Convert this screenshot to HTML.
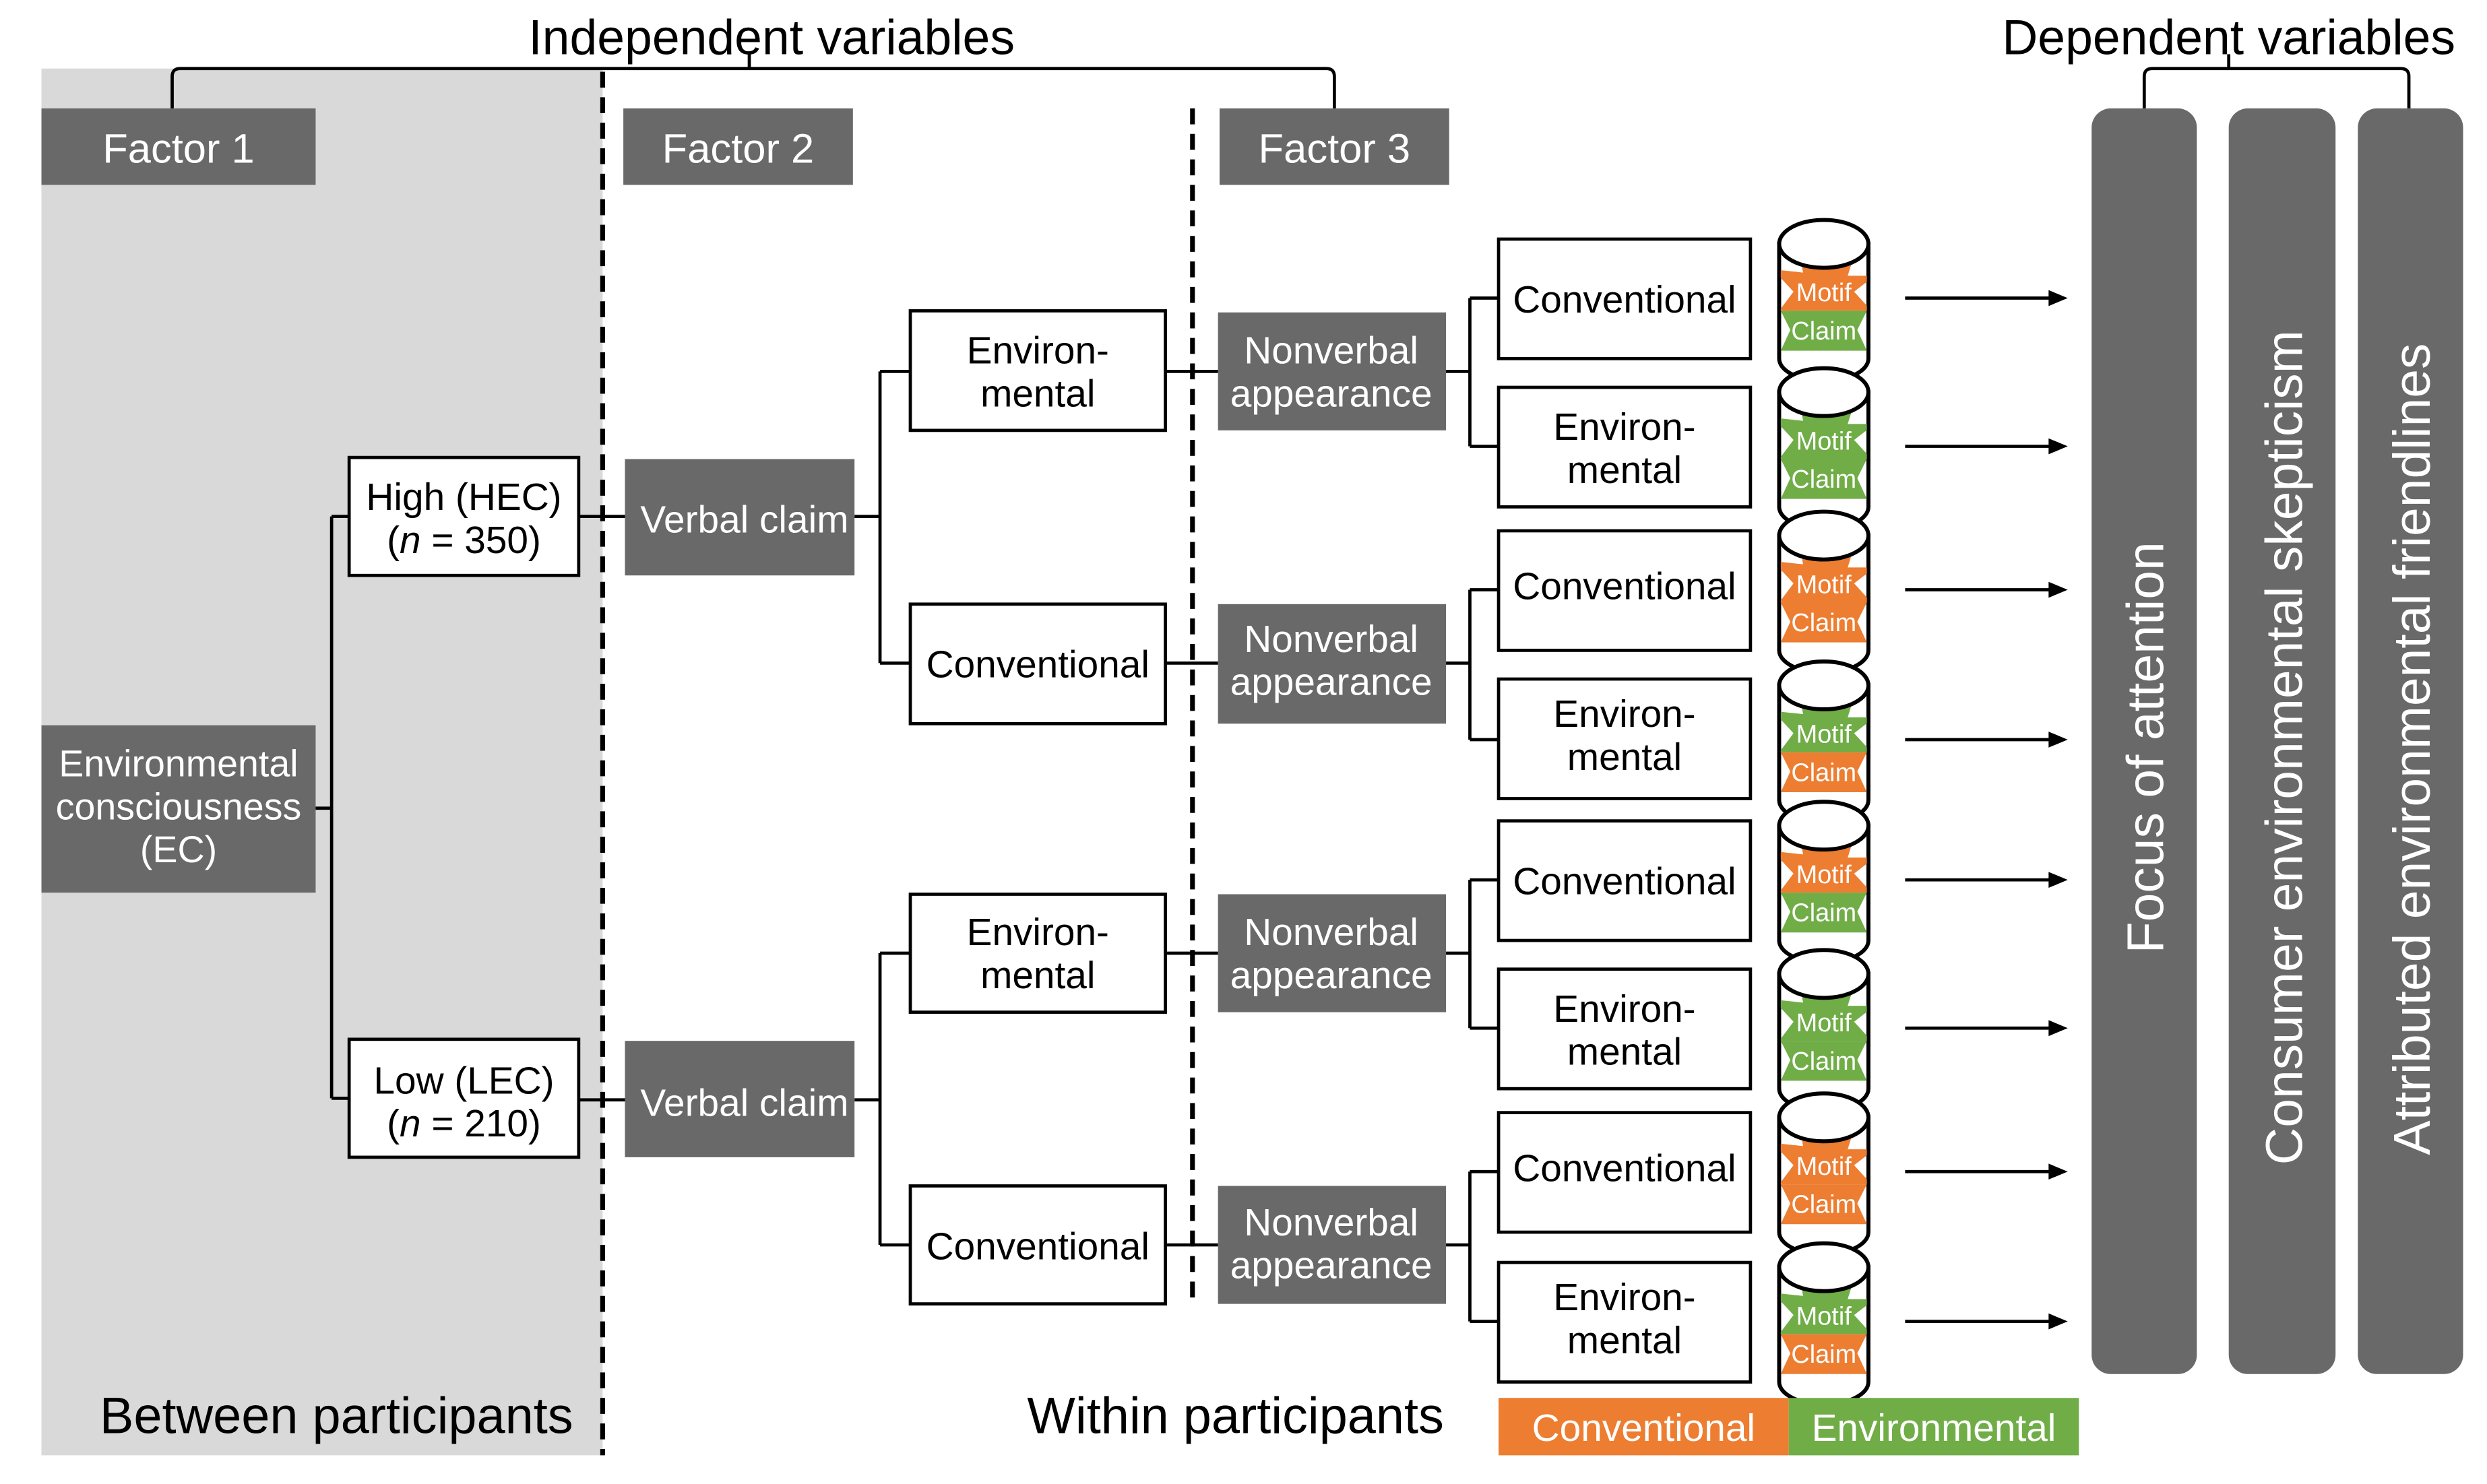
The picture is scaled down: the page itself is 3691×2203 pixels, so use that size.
<!DOCTYPE html>
<html><head><meta charset="utf-8">
<style>
html,body{margin:0;padding:0;background:#fff;}
svg{display:block;}
text{font-family:"Liberation Sans",Arial,sans-serif;}
</style></head>
<body>
<svg width="3691" height="2203" viewBox="0 0 1560 931" preserveAspectRatio="none" xmlns="http://www.w3.org/2000/svg">
<defs>
<clipPath id="cb"><rect x="-27" y="-40" width="54" height="80"/></clipPath>
</defs>
<rect x="26" y="43" width="352" height="870" fill="#d9d9d9"/>
<g stroke="#000" stroke-width="2" fill="none">
<path d="M108,68 V48 Q108,43 113,43 H832 Q837,43 837,48 V68"/>
<path d="M470,43 V34"/>
<path d="M1345,68 V48 Q1345,43 1350,43 H1506 Q1511,43 1511,48 V68"/>
<path d="M1398,43 V34"/>
</g>
<text x="484" y="34" font-size="31" text-anchor="middle">Independent variables</text>
<text x="1398" y="34" font-size="31" text-anchor="middle">Dependent variables</text>
<line x1="378" y1="45" x2="378" y2="913" stroke="#000" stroke-width="3" stroke-dasharray="10,6"/>
<line x1="748" y1="68" x2="748" y2="815" stroke="#000" stroke-width="3" stroke-dasharray="10,6"/>
<g fill="#696969"><rect x="26" y="68" width="172" height="48"/><rect x="391" y="68" width="144" height="48"/><rect x="765" y="68" width="144" height="48"/></g>
<g fill="#fff" font-size="26" text-anchor="middle">
<text x="112" y="102">Factor 1</text><text x="463" y="102">Factor 2</text><text x="837" y="102">Factor 3</text>
</g>
<g stroke="#000" stroke-width="2" fill="none">
<path d="M198,507 H208 M208,324 V689 M208,324 H219 M208,689 H219"/>
<path d="M363,324 H392 M363,690 H392"/>
<path d="M536,324 H552 M552,233 V416 M552,233 H571 M552,416 H571"/>
<path d="M536,690 H552 M552,598 V781 M552,598 H571 M552,781 H571"/>
<path d="M731,233 H764 M731,416 H764 M731,598 H764 M731,781 H764"/>
<path d="M907,233 H922 M922,187 V280 M922,187 H940 M922,280 H940"/>
<path d="M907,416 H922 M922,370 V464 M922,370 H940 M922,464 H940"/>
<path d="M907,598 H922 M922,552 V645 M922,552 H940 M922,645 H940"/>
<path d="M907,781 H922 M922,735 V829 M922,735 H940 M922,829 H940"/>
</g>
<rect x="26" y="455" width="172" height="105" fill="#696969"/>
<g fill="#fff" font-size="23.5" text-anchor="middle">
<text x="112" y="487">Environmental</text><text x="112" y="514">consciousness</text><text x="112" y="541">(EC)</text>
</g>
<g fill="#fff" stroke="#000" stroke-width="2">
<rect x="219" y="287" width="144" height="74"/><rect x="219" y="652" width="144" height="74"/>
</g>
<g font-size="24" text-anchor="middle">
<text x="291" y="320">High (HEC)</text><text x="291" y="347">(<tspan font-style="italic">n</tspan> = 350)</text>
<text x="291" y="686">Low (LEC)</text><text x="291" y="713">(<tspan font-style="italic">n</tspan> = 210)</text>
</g>
<g fill="#696969"><rect x="392" y="288" width="144" height="73"/><rect x="392" y="653" width="144" height="73"/></g>
<g fill="#fff" font-size="24" text-anchor="middle"><text x="467" y="334">Verbal claim</text><text x="467" y="700">Verbal claim</text></g>
<g fill="#fff" stroke="#000" stroke-width="2">
<rect x="571" y="195" width="160" height="75"/><rect x="571" y="379" width="160" height="75"/>
<rect x="571" y="561" width="160" height="74"/><rect x="571" y="744" width="160" height="74"/>
</g>
<g font-size="24" text-anchor="middle">
<text x="651" y="228">Environ-</text><text x="651" y="255">mental</text>
<text x="651" y="425">Conventional</text>
<text x="651" y="593">Environ-</text><text x="651" y="620">mental</text>
<text x="651" y="790">Conventional</text>
</g>
<g fill="#696969">
<rect x="764" y="196" width="143" height="74"/><rect x="764" y="379" width="143" height="75"/>
<rect x="764" y="561" width="143" height="74"/><rect x="764" y="744" width="143" height="74"/>
</g>
<g fill="#fff" font-size="24" text-anchor="middle">
<text x="835" y="228">Nonverbal</text><text x="835" y="255">appearance</text>
<text x="835" y="409">Nonverbal</text><text x="835" y="436">appearance</text>
<text x="835" y="593">Nonverbal</text><text x="835" y="620">appearance</text>
<text x="835" y="775">Nonverbal</text><text x="835" y="802">appearance</text>
</g>
<g fill="#fff" stroke="#000" stroke-width="2">
<rect x="940" y="150" width="158" height="75"/><rect x="940" y="243" width="158" height="75"/>
<rect x="940" y="333" width="158" height="75"/><rect x="940" y="426" width="158" height="75"/>
<rect x="940" y="515" width="158" height="75"/><rect x="940" y="608" width="158" height="75"/>
<rect x="940" y="698" width="158" height="75"/><rect x="940" y="792" width="158" height="75"/>
</g>
<g font-size="24" text-anchor="middle">
<text x="1019" y="196">Conventional</text>
<text x="1019" y="276">Environ-</text><text x="1019" y="303">mental</text>
<text x="1019" y="376">Conventional</text>
<text x="1019" y="456">Environ-</text><text x="1019" y="483">mental</text>
<text x="1019" y="561">Conventional</text>
<text x="1019" y="641">Environ-</text><text x="1019" y="668">mental</text>
<text x="1019" y="741">Conventional</text>
<text x="1019" y="822">Environ-</text><text x="1019" y="849">mental</text>
</g>
<g stroke-width="2.5">
<g transform="translate(1144,187)">
<path d="M-28,-34 V38 A28,14 0 0 0 28,38 V-34 Z" fill="#fff" stroke="#000"/>
<polygon clip-path="url(#cb)" fill="#ED7D31" points="4,-36 7,-22 20,-30 15,-14 32,-14 19,-4 30,8 -28,8 -19,-4 -32,-18 -13,-16 -16,-32 -5,-20"/>
<polygon fill="#70AD47" points="-27,8 27,8 21,20 27,33 -27,33 -21,20"/>
<ellipse cx="0" cy="-34" rx="28" ry="15" fill="#fff" stroke="#000"/>
<text x="0" y="2" font-size="16" fill="#fff" text-anchor="middle">Motif</text>
<text x="0" y="26" font-size="16" fill="#fff" text-anchor="middle">Claim</text>
</g>
<g transform="translate(1144,280)">
<path d="M-28,-34 V38 A28,14 0 0 0 28,38 V-34 Z" fill="#fff" stroke="#000"/>
<polygon clip-path="url(#cb)" fill="#70AD47" points="4,-36 7,-22 20,-30 15,-14 32,-14 19,-4 30,8 -28,8 -19,-4 -32,-18 -13,-16 -16,-32 -5,-20"/>
<polygon fill="#70AD47" points="-27,8 27,8 21,20 27,33 -27,33 -21,20"/>
<ellipse cx="0" cy="-34" rx="28" ry="15" fill="#fff" stroke="#000"/>
<text x="0" y="2" font-size="16" fill="#fff" text-anchor="middle">Motif</text>
<text x="0" y="26" font-size="16" fill="#fff" text-anchor="middle">Claim</text>
</g>
<g transform="translate(1144,370)">
<path d="M-28,-34 V38 A28,14 0 0 0 28,38 V-34 Z" fill="#fff" stroke="#000"/>
<polygon clip-path="url(#cb)" fill="#ED7D31" points="4,-36 7,-22 20,-30 15,-14 32,-14 19,-4 30,8 -28,8 -19,-4 -32,-18 -13,-16 -16,-32 -5,-20"/>
<polygon fill="#ED7D31" points="-27,8 27,8 21,20 27,33 -27,33 -21,20"/>
<ellipse cx="0" cy="-34" rx="28" ry="15" fill="#fff" stroke="#000"/>
<text x="0" y="2" font-size="16" fill="#fff" text-anchor="middle">Motif</text>
<text x="0" y="26" font-size="16" fill="#fff" text-anchor="middle">Claim</text>
</g>
<g transform="translate(1144,464)">
<path d="M-28,-34 V38 A28,14 0 0 0 28,38 V-34 Z" fill="#fff" stroke="#000"/>
<polygon clip-path="url(#cb)" fill="#70AD47" points="4,-36 7,-22 20,-30 15,-14 32,-14 19,-4 30,8 -28,8 -19,-4 -32,-18 -13,-16 -16,-32 -5,-20"/>
<polygon fill="#ED7D31" points="-27,8 27,8 21,20 27,33 -27,33 -21,20"/>
<ellipse cx="0" cy="-34" rx="28" ry="15" fill="#fff" stroke="#000"/>
<text x="0" y="2" font-size="16" fill="#fff" text-anchor="middle">Motif</text>
<text x="0" y="26" font-size="16" fill="#fff" text-anchor="middle">Claim</text>
</g>
<g transform="translate(1144,552)">
<path d="M-28,-34 V38 A28,14 0 0 0 28,38 V-34 Z" fill="#fff" stroke="#000"/>
<polygon clip-path="url(#cb)" fill="#ED7D31" points="4,-36 7,-22 20,-30 15,-14 32,-14 19,-4 30,8 -28,8 -19,-4 -32,-18 -13,-16 -16,-32 -5,-20"/>
<polygon fill="#70AD47" points="-27,8 27,8 21,20 27,33 -27,33 -21,20"/>
<ellipse cx="0" cy="-34" rx="28" ry="15" fill="#fff" stroke="#000"/>
<text x="0" y="2" font-size="16" fill="#fff" text-anchor="middle">Motif</text>
<text x="0" y="26" font-size="16" fill="#fff" text-anchor="middle">Claim</text>
</g>
<g transform="translate(1144,645)">
<path d="M-28,-34 V38 A28,14 0 0 0 28,38 V-34 Z" fill="#fff" stroke="#000"/>
<polygon clip-path="url(#cb)" fill="#70AD47" points="4,-36 7,-22 20,-30 15,-14 32,-14 19,-4 30,8 -28,8 -19,-4 -32,-18 -13,-16 -16,-32 -5,-20"/>
<polygon fill="#70AD47" points="-27,8 27,8 21,20 27,33 -27,33 -21,20"/>
<ellipse cx="0" cy="-34" rx="28" ry="15" fill="#fff" stroke="#000"/>
<text x="0" y="2" font-size="16" fill="#fff" text-anchor="middle">Motif</text>
<text x="0" y="26" font-size="16" fill="#fff" text-anchor="middle">Claim</text>
</g>
<g transform="translate(1144,735)">
<path d="M-28,-34 V38 A28,14 0 0 0 28,38 V-34 Z" fill="#fff" stroke="#000"/>
<polygon clip-path="url(#cb)" fill="#ED7D31" points="4,-36 7,-22 20,-30 15,-14 32,-14 19,-4 30,8 -28,8 -19,-4 -32,-18 -13,-16 -16,-32 -5,-20"/>
<polygon fill="#ED7D31" points="-27,8 27,8 21,20 27,33 -27,33 -21,20"/>
<ellipse cx="0" cy="-34" rx="28" ry="15" fill="#fff" stroke="#000"/>
<text x="0" y="2" font-size="16" fill="#fff" text-anchor="middle">Motif</text>
<text x="0" y="26" font-size="16" fill="#fff" text-anchor="middle">Claim</text>
</g>
<g transform="translate(1144,829)">
<path d="M-28,-34 V38 A28,14 0 0 0 28,38 V-34 Z" fill="#fff" stroke="#000"/>
<polygon clip-path="url(#cb)" fill="#70AD47" points="4,-36 7,-22 20,-30 15,-14 32,-14 19,-4 30,8 -28,8 -19,-4 -32,-18 -13,-16 -16,-32 -5,-20"/>
<polygon fill="#ED7D31" points="-27,8 27,8 21,20 27,33 -27,33 -21,20"/>
<ellipse cx="0" cy="-34" rx="28" ry="15" fill="#fff" stroke="#000"/>
<text x="0" y="2" font-size="16" fill="#fff" text-anchor="middle">Motif</text>
<text x="0" y="26" font-size="16" fill="#fff" text-anchor="middle">Claim</text>
</g>
</g>
<g stroke="#000" stroke-width="2">
<line x1="1195" y1="187" x2="1287" y2="187"/><line x1="1195" y1="280" x2="1287" y2="280"/>
<line x1="1195" y1="370" x2="1287" y2="370"/><line x1="1195" y1="464" x2="1287" y2="464"/>
<line x1="1195" y1="552" x2="1287" y2="552"/><line x1="1195" y1="645" x2="1287" y2="645"/>
<line x1="1195" y1="735" x2="1287" y2="735"/><line x1="1195" y1="829" x2="1287" y2="829"/>
</g>
<g fill="#000">
<polygon points="1285,182 1297,187 1285,192"/><polygon points="1285,275 1297,280 1285,285"/>
<polygon points="1285,365 1297,370 1285,375"/><polygon points="1285,459 1297,464 1285,469"/>
<polygon points="1285,547 1297,552 1285,557"/><polygon points="1285,640 1297,645 1285,650"/>
<polygon points="1285,730 1297,735 1285,740"/><polygon points="1285,824 1297,829 1285,834"/>
</g>
<g fill="#696969">
<rect x="1312" y="68" width="66" height="794" rx="12"/>
<rect x="1398" y="68" width="67" height="794" rx="12"/>
<rect x="1479" y="68" width="66" height="794" rx="12"/>
</g>
<g fill="#fff" font-size="32.5" text-anchor="middle">
<text transform="translate(1357,469) rotate(-90)">Focus of attention</text>
<text transform="translate(1444,469) rotate(-90)">Consumer environmental skepticism</text>
<text transform="translate(1524,470) rotate(-90)">Attributed environmental friendlines</text>
</g>
<text x="211" y="899" font-size="32" text-anchor="middle">Between participants</text>
<text x="775" y="899" font-size="32" text-anchor="middle">Within participants</text>
<rect x="940" y="877" width="182" height="36" fill="#ED7D31"/>
<rect x="1122" y="877" width="182" height="36" fill="#70AD47"/>
<text x="1031" y="904" font-size="24" fill="#fff" text-anchor="middle">Conventional</text>
<text x="1213" y="904" font-size="24" fill="#fff" text-anchor="middle">Environmental</text>
</svg>
</body></html>
